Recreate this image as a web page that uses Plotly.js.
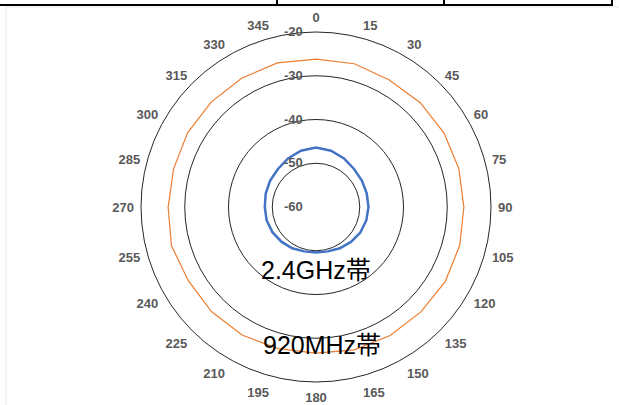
<!DOCTYPE html>
<html><head><meta charset="utf-8">
<script src="https://cdn.plot.ly/plotly-3.0.1.min.js"></script>
<style>html,body{margin:0;padding:0;background:#fff}#c{width:619px;height:405px}</style>
</head><body><div id="c"></div>
<script>
const angles = [0,15,30,45,60,75,90,105,120,135,150,165,180,195,210,225,240,255,270,285,300,315,330,345];
const angleLabels = angles.map(String);
const band920 = [-26.2,-26.1,-26.5,-26.3,-26.2,-26.2,-26.2,-26.0,-25.9,-26.1,-26.1,-26.2,-26.6,-26.5,-26.2,-26.2,-26.3,-25.8,-26.2,-26.3,-26.1,-26.1,-26.0,-25.9];
const band24 = [-46.4,-46.7,-47.2,-47.7,-47.9,-48.0,-48.0,-48.1,-48.3,-48.7,-49.1,-49.5,-49.6,-49.5,-49.1,-48.8,-48.5,-48.3,-48.3,-48.1,-47.9,-47.7,-47.2,-46.7];
const radialTicks = [-60,-50,-40,-30,-20];

function close(a){return a.concat([a[0]]);}

const traces = [
  {type:'scatterpolar', mode:'lines', name:'2.4GHz帯', theta:close(angles), r:close(band24),
   line:{color:'#4472C4', width:2.5}, hoverinfo:'skip'},
  {type:'scatterpolar', mode:'lines', name:'920MHz帯', theta:close(angles), r:close(band920),
   line:{color:'#ED7D31', width:1.2}, hoverinfo:'skip'}
];

const W=619,H=405;
function px(x){return x/W;} function py(y){return 1-y/H;}
const tf = {size:13, color:'#595959', family:'Liberation Sans, Arial, sans-serif', weight:'bold'};
const pad = '\u00a0\u00a0\u00a0';

const layout = {
  width:W, height:H, margin:{l:0,r:0,t:0,b:0},
  paper_bgcolor:'#fff', showlegend:false,
  font:{family:'Liberation Sans, Arial, sans-serif'},
  polar:{
    domain:{x:[px(141),px(491)], y:[py(382),py(32)]},
    bgcolor:'#fff',
    gridshape:'linear',
    angularaxis:{type:'linear', direction:'clockwise', rotation:90, thetaunit:'degrees',
      tickvals:angles, ticktext:angleLabels, showgrid:false, showline:true,
      linecolor:'#262626', linewidth:1, ticks:'outside', ticklen:4, tickcolor:'rgba(0,0,0,0)',
      tickfont:tf},
    radialaxis:{range:[-60,-20], tickvals:radialTicks, ticktext:radialTicks.map(v => String(v) + pad),
      showline:false, ticks:'', angle:90, tickangle:90, side:'counterclockwise',
      gridcolor:'#262626', gridwidth:1, tickfont:tf}
  },
  annotations:[
    {xref:'paper', yref:'paper', x:px(316), y:py(270), text:'2.4GHz帯', showarrow:false,
     font:{size:25, color:'#000', family:'Liberation Sans, Noto Sans CJK JP, sans-serif'}},
    {xref:'paper', yref:'paper', x:px(322), y:py(361), text:'920MHz帯', showarrow:false,
     font:{size:25, color:'#000', family:'Liberation Sans, Noto Sans CJK JP, sans-serif'}}
  ],
  shapes:[
    {type:'line', xref:'paper', yref:'paper', x0:0, x1:px(613), y0:py(5), y1:py(5), line:{color:'#000', width:2}},
    {type:'line', xref:'paper', yref:'paper', x0:px(277), x1:px(277), y0:1, y1:py(5), line:{color:'#000', width:2}},
    {type:'line', xref:'paper', yref:'paper', x0:px(444), x1:px(444), y0:1, y1:py(5), line:{color:'#000', width:2}},
    {type:'line', xref:'paper', yref:'paper', x0:px(612), x1:px(612), y0:1, y1:py(5), line:{color:'#000', width:2}},
    {type:'line', xref:'paper', yref:'paper', x0:px(6), x1:1, y0:py(7), y1:py(7), line:{color:'#e8e8e8', width:1}},
    {type:'line', xref:'paper', yref:'paper', x0:px(6), x1:px(6), y0:py(7), y1:0, line:{color:'#e8e8e8', width:1}}
  ]
};
Plotly.newPlot('c', traces, layout, {staticPlot:true, displayModeBar:false});
</script></body></html>
